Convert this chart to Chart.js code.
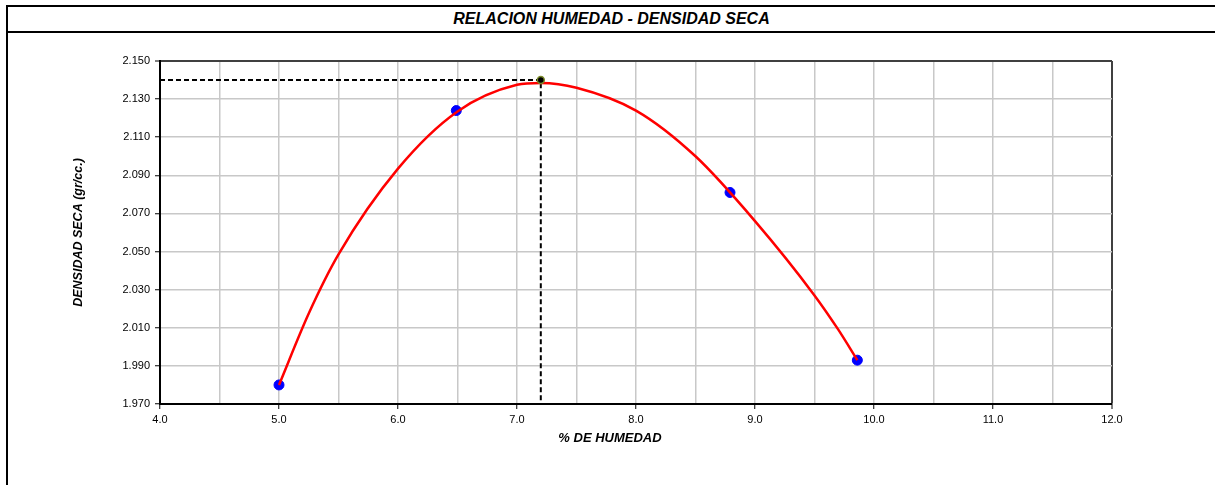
<!DOCTYPE html>
<html lang="es">
<head>
    <meta charset="UTF-8">
    <title>Relacion Humedad - Densidad Seca</title>
    <script src="https://cdn.jsdelivr.net/npm/chart.js@4.4.0/dist/chart.umd.min.js"></script>
    <style>
        body {
            margin: 0;
            width: 1215px;
            height: 485px;
            overflow: hidden;
            background: white;
            font-family: 'Liberation Sans', Arial, sans-serif;
        }
        .frame {
            position: absolute;
            left: 6px;
            top: 5px;
            right: -10px;
            bottom: -10px;
            border-top: 2px solid #000;
            border-left: 2px solid #000;
        }
        .title {
            position: absolute;
            left: 8px;
            right: 0;
            top: 7px;
            height: 24px;
            line-height: 24px;
            border-bottom: 2px solid #000;
            text-align: center;
            font-weight: bold;
            font-style: italic;
            font-size: 16px;
            color: #000;
        }
        /* titulo del eje x, algo corrido a la izquierda como en la hoja original */
        .x-title {
            position: absolute;
            left: 510px;
            width: 200px;
            top: 430px;
            text-align: center;
            font-weight: bold;
            font-style: italic;
            font-size: 13px;
            color: #000;
        }
        #chart {
            position: absolute;
            left: 0;
            top: 0;
        }
    </style>
</head>
<body>
    <div class="frame"></div>
    <div class="title">RELACION HUMEDAD - DENSIDAD SECA</div>
    <canvas id="chart" width="1215" height="485"></canvas>
    <div class="x-title">% DE HUMEDAD</div>

    <script>
        // ensayo proctor: puntos medidos
        const humedad = [5.0, 6.49, 8.79, 9.86];
        const densidad = [1.980, 2.124, 2.081, 1.993];

        // curva de ajuste
        const curvaHumedad = [5.0, 5.25, 5.5, 6.0, 6.5, 7.0, 7.2, 7.5, 8.0, 8.5, 9.0, 9.5, 9.7, 9.86];
        const curvaDensidad = [1.980, 2.0175, 2.0485, 2.0935, 2.1235, 2.1375, 2.1385, 2.136, 2.124, 2.100, 2.066, 2.027, 2.009, 1.993];

        // optimo contenido de humedad / maxima densidad seca
        const humedadOptima = [7.2];
        const densidadMaxima = [2.140];

        // ejes
        const xRango = [4.0, 12.0];
        const xPaso = 0.5;
        const yRango = [1.970, 2.150];
        const yPaso = 0.02;

        const font = 'Liberation Sans, Arial, sans-serif';

        const toPoints = (xs, ys) => xs.map((x, i) => ({ x: x, y: ys[i] }));

        const guia = [
            { x: xRango[0], y: densidadMaxima[0] },
            { x: humedadOptima[0], y: densidadMaxima[0] },
            { x: humedadOptima[0], y: yRango[0] }
        ];

        new Chart(document.getElementById('chart').getContext('2d'), {
            type: 'scatter',
            data: {
                datasets: [
                    {
                        label: 'Optimo',
                        data: toPoints(humedadOptima, densidadMaxima),
                        backgroundColor: '#000',
                        borderColor: '#7a8a2a',
                        borderWidth: 1.5,
                        pointRadius: 3.5,
                        order: 0
                    },
                    {
                        label: 'Curva',
                        type: 'line',
                        data: toPoints(curvaHumedad, curvaDensidad),
                        borderColor: '#ff0000',
                        borderWidth: 2.5,
                        pointRadius: 0,
                        cubicInterpolationMode: 'monotone',
                        fill: false,
                        order: 1
                    },
                    {
                        label: 'Ensayos',
                        data: toPoints(humedad, densidad),
                        backgroundColor: '#0000ff',
                        borderColor: '#0000ff',
                        pointRadius: 5,
                        order: 2
                    },
                    {
                        label: 'Guia',
                        type: 'line',
                        data: guia,
                        borderColor: '#000',
                        borderWidth: 2,
                        borderDash: [5, 3],
                        pointRadius: 0,
                        tension: 0,
                        fill: false,
                        order: 3
                    }
                ]
            },
            options: {
                responsive: false,
                animation: false,
                devicePixelRatio: 1,
                layout: { padding: { left: 0, top: 61, right: 103, bottom: 0 } },
                plugins: {
                    legend: { display: false },
                    tooltip: { enabled: false }
                },
                scales: {
                    x: {
                        type: 'linear',
                        min: xRango[0],
                        max: xRango[1],
                        afterFit: (scale) => { scale.height = 81; },
                        ticks: {
                            stepSize: xPaso,
                            autoSkip: false,
                            maxRotation: 0,
                            padding: 4,
                            color: '#000',
                            font: { family: font, size: 11 },
                            callback: (v) => Number.isInteger(v) ? v.toFixed(1) : ''
                        },
                        grid: {
                            color: (ctx) => ctx.tick && ctx.tick.value === xRango[1] ? '#404040' : '#c8c8c8',
                            lineWidth: (ctx) => ctx.tick && ctx.tick.value === xRango[1] ? 2 : 1.5,
                            tickLength: 5,
                            tickColor: (ctx) => ctx.tick && Number.isInteger(ctx.tick.value) ? '#000' : 'rgba(0,0,0,0)',
                            tickWidth: 1
                        },
                        border: { color: '#000', width: 2 }
                    },
                    y: {
                        type: 'linear',
                        min: yRango[0],
                        max: yRango[1],
                        afterFit: (scale) => { scale.width = 160; },
                        ticks: {
                            stepSize: yPaso,
                            padding: 5,
                            color: '#000',
                            font: { family: font, size: 11 },
                            callback: (v) => v.toFixed(3)
                        },
                        grid: {
                            color: (ctx) => ctx.tick && Math.abs(ctx.tick.value - yRango[1]) < 1e-9 ? '#404040' : '#c8c8c8',
                            lineWidth: (ctx) => ctx.tick && Math.abs(ctx.tick.value - yRango[1]) < 1e-9 ? 2 : 1.5,
                            tickLength: 5,
                            tickColor: '#000',
                            tickWidth: 1
                        },
                        border: { color: '#000', width: 2 },
                        title: {
                            display: true,
                            text: 'DENSIDAD SECA (gr/cc.)',
                            color: '#000',
                            padding: { top: 71, bottom: 0 },
                            font: { family: font, size: 12.5, weight: 'bold', style: 'italic' }
                        }
                    }
                }
            }
        });
    </script>
</body>
</html>
